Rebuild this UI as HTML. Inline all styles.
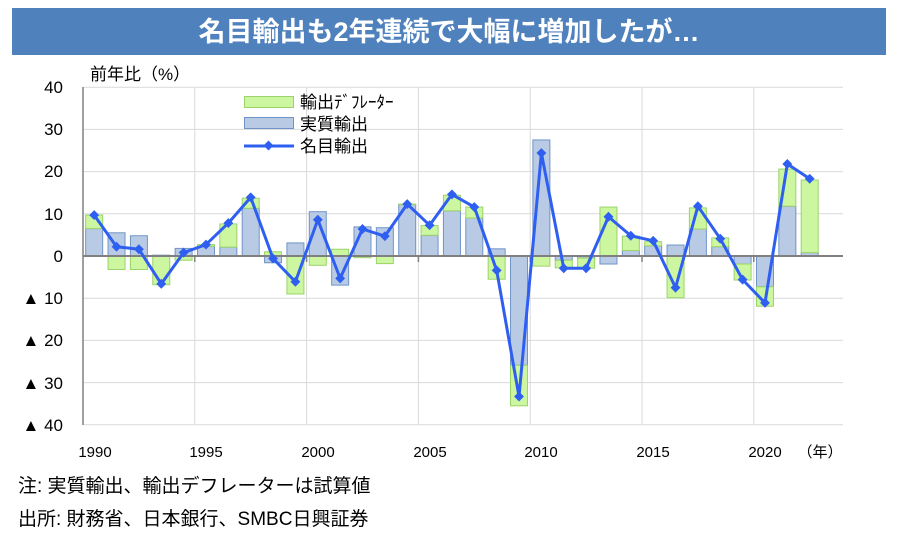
<!DOCTYPE html>
<html><head><meta charset="utf-8"><style>
body{margin:0;width:900px;height:540px;background:#fff;overflow:hidden;font-family:"Liberation Sans","Noto Sans CJK JP",sans-serif;}
</style></head><body>
<svg id="s" width="900" height="540" xmlns="http://www.w3.org/2000/svg" style="position:absolute;left:0;top:0">
<rect x="12" y="8" width="874" height="47" fill="#4f81bd"/>
<text x="449" y="41" fill="#fff" font-size="27" font-weight="bold" text-anchor="middle" font-family="Liberation Sans, Noto Sans CJK JP, sans-serif">名目輸出も2年連続で大幅に増加したが…</text>
<g id="grid" stroke="#d9d9d9" stroke-width="1"></g>
<g id="bars"></g>
<line x1="83" y1="256" x2="843" y2="256" stroke="#808080" stroke-width="2"/>
<line x1="83" y1="87" x2="83" y2="425" stroke="#808080" stroke-width="1.5"/>
<g id="ticks" stroke="#808080" stroke-width="1.5"></g>
<polyline id="line" fill="none" stroke="#2f5ff0" stroke-width="3" stroke-linejoin="round"/>
<g id="marks" fill="#2f5ff0"></g>
<g font-size="17" fill="#000" text-anchor="end" font-family="Liberation Sans, Noto Sans CJK JP, sans-serif">
<text x="63" y="93">40</text><text x="63" y="135">30</text><text x="63" y="177">20</text><text x="63" y="220">10</text><text x="63" y="262">0</text>
<text x="63" y="304">▲ 10</text><text x="63" y="346">▲ 20</text><text x="63" y="389">▲ 30</text><text x="63" y="431">▲ 40</text>
</g>
<text x="90" y="80" font-size="17" font-family="Liberation Sans, Noto Sans CJK JP, sans-serif">前年比（%）</text>
<g font-size="15" text-anchor="middle" font-family="Liberation Sans, Noto Sans CJK JP, sans-serif">
<text x="95" y="457">1990</text><text x="206" y="457">1995</text><text x="318" y="457">2000</text><text x="430" y="457">2005</text><text x="541" y="457">2010</text><text x="653" y="457">2015</text><text x="765" y="457">2020</text><text x="820" y="457">（年）</text>
</g>
<rect x="244.5" y="96.5" width="49" height="11" fill="#ccf7a0" stroke="#9bd36a"/>
<rect x="244.5" y="117.5" width="49" height="11" fill="#b9cbe4" stroke="#6f94c8"/>
<line x1="244" y1="146" x2="294" y2="146" stroke="#2f5ff0" stroke-width="3"/>
<rect x="265" y="142" width="7" height="7" fill="#2f5ff0" transform="rotate(45 268.5 145.5)"/>
<g font-size="17" font-family="Liberation Sans, Noto Sans CJK JP, sans-serif">
<text x="300" y="108">輸出ﾃﾞﾌﾚｰﾀｰ</text><text x="300" y="130">実質輸出</text><text x="300" y="152">名目輸出</text>
</g>
<g font-size="19" font-family="Liberation Sans, Noto Sans CJK JP, sans-serif">
<text x="18" y="492">注: 実質輸出、輸出デフレーターは試算値</text>
<text x="18" y="525">出所: 財務省、日本銀行、SMBC日興証券</text>
</g>
</svg>
<script>
var NS="http://www.w3.org/2000/svg";
function el(p,t,a){var e=document.createElementNS(NS,t);for(var k in a)e.setAttribute(k,a[k]);document.getElementById(p).appendChild(e);return e;}
var L=83,W=22.36,Z=256,K=4.22;
for(var v=-40;v<=40;v+=10){if(v==0)continue;var y=Z-v*K;el("grid","line",{x1:L,x2:843,y1:y,y2:y});}
for(var i=5;i<=30;i+=5){var x=L+i*W;el("grid","line",{x1:x,x2:x,y1:87,y2:425});el("ticks","line",{x1:x,x2:x,y1:256,y2:262});}
var b=[6.5,5.5,4.8,0.2,1.8,2.3,2.1,11.3,-1.6,3.1,10.5,-6.9,6.9,6.7,12.2,4.9,10.7,9.0,1.7,-25.9,27.5,-1.0,-0.5,-1.9,1.3,2.4,2.6,6.4,2.2,-1.9,-7.3,11.8,0.8];
var g=[3.2,-3.2,-3.2,-6.8,-1.0,0.4,5.5,2.4,1.0,-9.0,-2.2,1.6,-0.4,-1.8,0.1,2.3,3.7,2.6,-5.5,-9.6,-2.4,-1.8,-2.4,11.6,3.4,1.0,-9.9,5.0,2.1,-3.8,-4.6,8.8,17.2];
var n=[9.7,2.2,1.6,-6.6,0.8,2.7,7.8,13.9,-0.6,-6.1,8.6,-5.3,6.4,4.7,12.3,7.3,14.6,11.6,-3.4,-33.3,24.4,-2.9,-2.9,9.3,4.8,3.6,-7.5,11.8,4.1,-5.6,-11.1,21.8,18.3];
var pts=[];
for(var i=0;i<b.length;i++){
 var cx=L+(i+0.5)*W,x0=cx-9;
 var bv=b[i],gv=g[i];
 var y1=Z-Math.max(0,bv)*K,y2=Z-Math.min(0,bv)*K;
 el("bars","rect",{x:x0+.5,y:y1,width:17,height:Math.max(0.5,y2-y1),fill:"#b9cbe4",stroke:"#6f94c8","stroke-width":1});
 var base=(bv*gv>0)?bv:0;
 var a=Z-base*K,c=Z-(base+gv)*K;
 el("bars","rect",{x:x0+.5,y:Math.min(a,c),width:17,height:Math.max(0.5,Math.abs(c-a)),fill:"#ccf7a0",stroke:"#9bd36a","stroke-width":1});
 var py=Z-n[i]*K;pts.push(cx+","+py);
 el("marks","rect",{x:cx-3.5,y:py-3.5,width:7,height:7,transform:"rotate(45 "+cx+" "+py+")"});
}
document.getElementById("line").setAttribute("points",pts.join(" "));
</script>
</body></html>
